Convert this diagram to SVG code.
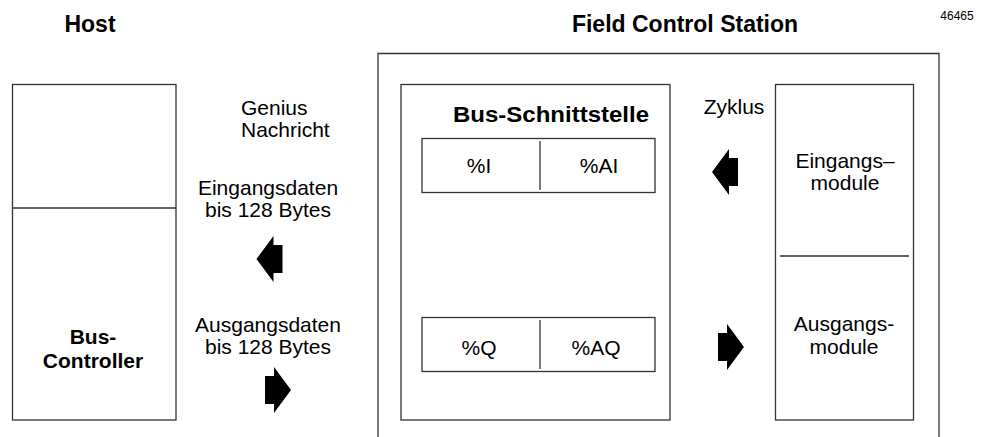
<svg xmlns="http://www.w3.org/2000/svg" width="985" height="437" viewBox="0 0 985 437">
  <defs>
    <style>
      .box { fill: none; stroke: #333; stroke-width: 1.3; }
      .ln { stroke: #333; stroke-width: 1.3; fill: none; }
      .t { font-family: "Liberation Sans", Arial, Helvetica, sans-serif; font-size: 21px; fill: #000; }
      .c { text-anchor: middle; }
      .b { font-weight: bold; }
      .title { font-family: "Liberation Sans", Arial, Helvetica, sans-serif; font-size: 23px; font-weight: bold; fill: #000; text-anchor: middle; }
      .arrow { fill: #000; stroke: none; }
    </style>
    <path id="arrowR" d="M-13,-14 H-4 V-23 L13,0 L-4,23 V14 H-13 Z"/>
    <path id="arrowL" d="M13,-14 H4 V-23 L-13,0 L4,23 V14 H13 Z"/>
  </defs>
  <rect width="985" height="437" fill="#fff"/>

  <g id="titles">
    <text class="title" x="90" y="31.5">Host</text>
    <text class="title" x="685" y="31.5">Field Control Station</text>
    <text class="t c" x="957" y="20" style="font-size:12px">46465</text>
  </g>

  <g id="host">
    <rect class="box" x="12.5" y="84.5" width="163.5" height="335.5"/>
    <line class="ln" x1="12.5" y1="208" x2="176" y2="208"/>
    <text class="t c b" x="93" y="344">Bus-</text>
    <text class="t c b" x="93" y="368">Controller</text>
  </g>

  <g id="field-control-station">
    <path class="ln" d="M378,437 V53.5 H939 V437"/>
  </g>

  <g id="bus-interface">
    <rect class="box" x="401" y="84.5" width="269" height="335.5"/>
    <text class="t c b" x="551" y="122" style="font-size:22px" textLength="196" lengthAdjust="spacingAndGlyphs">Bus-Schnittstelle</text>
  </g>

  <g id="input-image">
    <rect class="box" x="422" y="138.5" width="233" height="54"/>
    <line class="ln" x1="540" y1="141" x2="540" y2="190"/>
    <text class="t c" x="479" y="173">%I</text>
    <text class="t c" x="599" y="173">%AI</text>
  </g>

  <g id="output-image">
    <rect class="box" x="422" y="317.5" width="233" height="54"/>
    <line class="ln" x1="540" y1="320" x2="540" y2="369"/>
    <text class="t c" x="479" y="355">%Q</text>
    <text class="t c" x="596" y="355">%AQ</text>
  </g>

  <g id="modules">
    <rect class="box" x="775.5" y="84.5" width="138" height="335.5"/>
    <line class="ln" x1="780" y1="256" x2="909" y2="256"/>
    <text class="t c" x="845" y="168">Eingangs–</text>
    <text class="t c" x="845" y="190">module</text>
    <text class="t c" x="844" y="331">Ausgangs-</text>
    <text class="t c" x="844" y="354">module</text>
  </g>

  <g id="labels">
    <text class="t" x="241" y="115">Genius</text>
    <text class="t" x="241" y="137">Nachricht</text>
    <text class="t c" x="268" y="195">Eingangsdaten</text>
    <text class="t c" x="268" y="217">bis 128 Bytes</text>
    <text class="t c" x="268" y="332">Ausgangsdaten</text>
    <text class="t c" x="268" y="354">bis 128 Bytes</text>
    <text class="t c" x="734" y="114">Zyklus</text>
  </g>

  <g id="connectors">
    <use href="#arrowL" class="arrow" transform="translate(269.5,259)"/>
    <use href="#arrowR" class="arrow" transform="translate(278,390)"/>
    <use href="#arrowL" class="arrow" transform="translate(725,172)"/>
    <use href="#arrowR" class="arrow" transform="translate(731,347)"/>
  </g>
</svg>
